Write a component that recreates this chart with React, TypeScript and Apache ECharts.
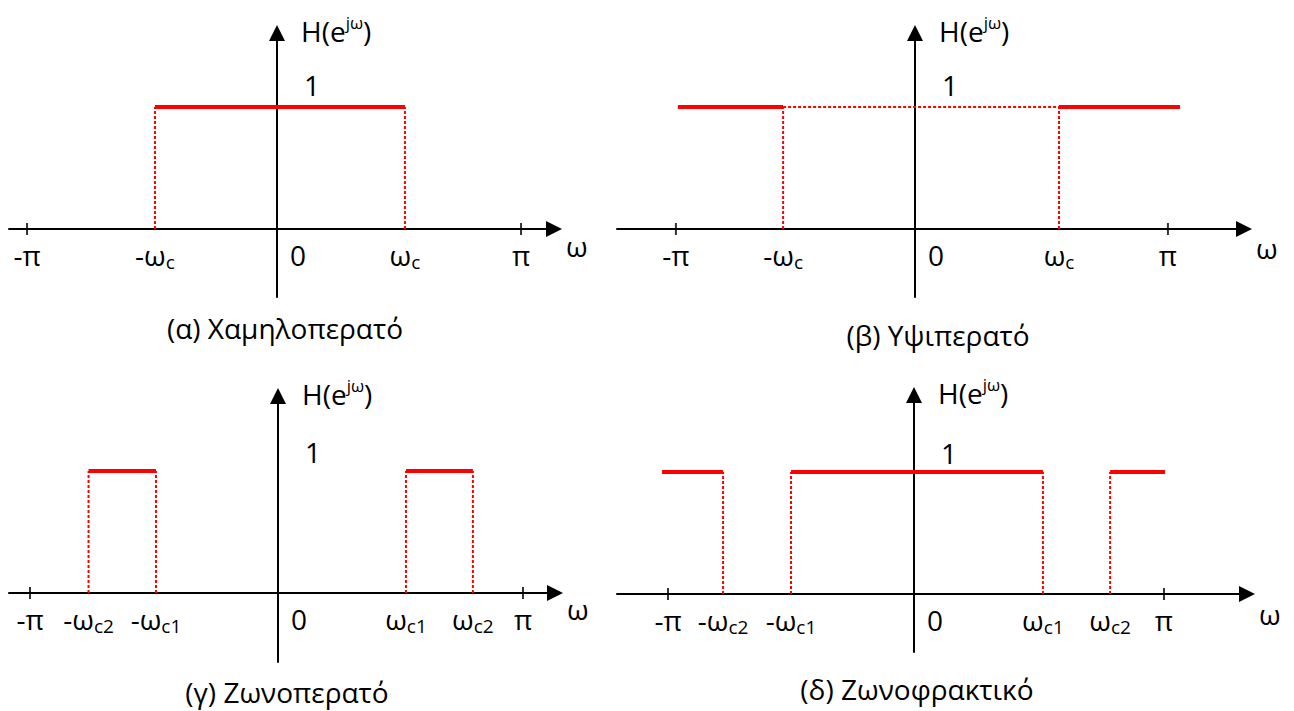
import { useEffect, useRef } from 'react';
import * as echarts from 'echarts';

const FONT = '"Open Sans", "Noto Sans", "DejaVu Sans", sans-serif';
const RED = '#ff0000';
const BLACK = '#000000';

// ---------- data: frequencies in units of π ----------
const GAIN = 1;

// (α) low-pass
const lowLabels = ['-π', '-ω_c', '0', 'ω_c', 'π'];
const lowFreqs = [-1.012, -0.494, 0, 0.518, 0.988];
const lowPass = [[-0.494, 0.518]];
const lowEdges = [-0.494, 0.518];
const lowGuides: number[][] = [];

// (β) high-pass
const highLabels = ['-π', '-ω_c', '0', 'ω_c', 'π'];
const highFreqs = [-0.968, -0.534, 0, 0.583, 1.024];
const highPass = [[-0.96, -0.534], [0.583, 1.073]];
const highEdges = [-0.534, 0.583];
const highGuides = [[-0.534, 0.583]];

// (γ) band-pass
const bandLabels = ['-π', '-ω_c2', '-ω_c1', '0', 'ω_c1', 'ω_c2', 'π'];
const bandFreqs = [-1.004, -0.767, -0.494, 0, 0.518, 0.789, 0.992];
const bandPass = [[-0.767, -0.494], [0.518, 0.789]];
const bandEdges = [-0.767, -0.494, 0.518, 0.789];
const bandGuides: number[][] = [];

// (δ) band-stop
const stopLabels = ['-π', '-ω_c2', '-ω_c1', '0', 'ω_c1', 'ω_c2', 'π'];
const stopFreqs = [-0.996, -0.773, -0.498, 0, 0.522, 0.794, 1.012];
const stopPass = [[-1.02, -0.773], [-0.498, 0.522], [0.794, 1.016]];
const stopEdges = [-0.773, -0.498, 0.522, 0.794];
const stopGuides: number[][] = [];

const titles = ['(α) Χαμηλοπερατό', '(β) Υψιπερατό', '(γ) Ζωνοπερατό', '(δ) Ζωνοφρακτικό'];
const yName = 'H(e{sup|jω})';
const xName = 'ω';
const gainLabel = '1';

// ---------- layout (pixels) ----------
const UX = 247; // px per π
const UY = 122; // px per unit gain
const layouts = [
  { ox: 277, oy: 229, left: 9, right: 554, top: 33, bottom: 297, tx: 285, ty: 328, oneUp: 22, nameLH: 34 },
  { ox: 915, oy: 229, left: 617, right: 1244, top: 33, bottom: 297, tx: 938, ty: 335, oneUp: 22, nameLH: 38 },
  { ox: 278, oy: 593, left: 9, right: 555, top: 396, bottom: 662, tx: 287, ty: 692, oneUp: 19, nameLH: 32 },
  { ox: 914, oy: 594, left: 617, right: 1247, top: 395, bottom: 652, tx: 917, ty: 689, oneUp: 19, nameLH: 40 },
];

const panels = [
  { labels: lowLabels, freqs: lowFreqs, pass: lowPass, edges: lowEdges, guides: lowGuides },
  { labels: highLabels, freqs: highFreqs, pass: highPass, edges: highEdges, guides: highGuides },
  { labels: bandLabels, freqs: bandFreqs, pass: bandPass, edges: bandEdges, guides: bandGuides },
  { labels: stopLabels, freqs: stopFreqs, pass: stopPass, edges: stopEdges, guides: stopGuides },
];

function richify(label: string): string {
  const k = label.indexOf('_');
  if (k < 0) return label;
  return label.slice(0, k) + '{s|' + label.slice(k + 1) + '}';
}

const textBase = { fontFamily: FONT, color: BLACK, fontSize: 28 };
const labelBase = { ...textBase, opacity: 1, textBorderWidth: 0, textShadowBlur: 0 };

function buildOption() {
  const grid: any[] = [];
  const xAxis: any[] = [];
  const yAxis: any[] = [];
  const series: any[] = [];
  const title: any[] = [];

  panels.forEach((p, i) => {
    const L = layouts[i];
    grid.push({
      left: L.left,
      top: L.top,
      width: L.right - L.left,
      height: L.bottom - L.top,
      containLabel: false,
      outerBoundsMode: 'none',
    });
    xAxis.push({
      gridIndex: i,
      type: 'value',
      min: (L.left - L.ox) / UX,
      max: (L.right - L.ox) / UX,
      axisLine: {
        onZero: true,
        symbol: ['none', 'triangle'],
        symbolSize: [16, 16],
        lineStyle: { color: BLACK, width: 2 },
      },
      axisTick: { show: false },
      axisLabel: { show: false },
      splitLine: { show: false },
      name: xName,
      nameLocation: 'end',
      nameGap: 12,
      nameMoveOverlap: false,
      nameTextStyle: {
        ...textBase,
        lineHeight: L.nameLH,
        align: 'left',
        verticalAlign: 'top',
      },
    });
    yAxis.push({
      gridIndex: i,
      type: 'value',
      min: -(L.bottom - L.oy) / UY,
      max: (L.oy - L.top) / UY,
      axisLine: {
        onZero: true,
        symbol: ['none', 'triangle'],
        symbolSize: [16, 16],
        lineStyle: { color: BLACK, width: 2 },
      },
      axisTick: { show: false },
      axisLabel: { show: false },
      splitLine: { show: false },
      name: yName,
      nameLocation: 'end',
      nameGap: 2,
      nameMoveOverlap: false,
      nameTextStyle: {
        ...textBase,
        lineHeight: 34,
        align: 'left',
        verticalAlign: 'middle',
        padding: [0, 0, 0, 24],
        rich: {
          sup: { fontSize: 17, lineHeight: 17, verticalAlign: 'top', fontFamily: FONT, color: BLACK },
        },
      },
    });

    // dotted guides (vertical edges and horizontal guides)
    p.edges.forEach((e) => {
      series.push({
        type: 'line', xAxisIndex: i, yAxisIndex: i, silent: true, showSymbol: false, symbol: 'none',
        data: [[e, 0], [e, GAIN]],
        lineStyle: { color: RED, width: 2, type: [3, 2] },
        z: 3,
      });
    });
    p.guides.forEach((g) => {
      series.push({
        type: 'line', xAxisIndex: i, yAxisIndex: i, silent: true, showSymbol: false, symbol: 'none',
        data: [[g[0], GAIN], [g[1], GAIN]],
        lineStyle: { color: RED, width: 2, type: [3, 2] },
        z: 3,
      });
    });
    // pass bands (solid)
    p.pass.forEach((seg) => {
      series.push({
        type: 'line', xAxisIndex: i, yAxisIndex: i, silent: true, showSymbol: false, symbol: 'none',
        data: [[seg[0], GAIN], [seg[1], GAIN]],
        lineStyle: { color: RED, width: 4 },
        z: 4,
      });
    });
    // ±π tick marks
    series.push({
      type: 'scatter', xAxisIndex: i, yAxisIndex: i, silent: true,
      symbol: 'rect', symbolSize: [2, 12],
      itemStyle: { color: BLACK },
      data: [[p.freqs[0], 0], [p.freqs[p.freqs.length - 1], 0]],
      z: 2,
    });
    // frequency labels under the ω axis
    series.push({
      type: 'scatter', xAxisIndex: i, yAxisIndex: i, silent: true,
      symbol: 'circle', symbolSize: 1,
      itemStyle: { color: 'rgba(255,255,255,0)' },
      data: p.freqs.map((f, j) => ({
        name: p.labels[j],
        value: [f, 0],
        label: { offset: p.labels[j] === '0' ? [21, 0] : [0, 0] },
      })),
      label: {
        show: true,
        position: 'bottom',
        distance: 8,
        ...labelBase,
        lineHeight: 34,
        formatter: (prm: any) => richify(prm.name),
        rich: {
          s: { fontSize: 19, lineHeight: 20, verticalAlign: 'bottom', fontFamily: FONT, color: BLACK },
        },
      },
      z: 5,
    });
    // gain label "1"
    series.push({
      type: 'scatter', xAxisIndex: i, yAxisIndex: i, silent: true,
      symbol: 'circle', symbolSize: 1,
      itemStyle: { color: 'rgba(255,255,255,0)' },
      data: [{ name: gainLabel, value: [0, GAIN] }],
      label: {
        show: true,
        position: 'inside',
        offset: [35, -L.oneUp],
        ...labelBase,
        formatter: (prm: any) => prm.name,
      },
      z: 5,
    });

    title.push({
      text: titles[i],
      left: L.tx,
      top: L.ty,
      padding: 0,
      textAlign: 'center',
      textVerticalAlign: 'middle',
      textStyle: { ...textBase, fontWeight: 'normal' },
    });
  });

  return {
    animation: false,
    backgroundColor: '#ffffff',
    title,
    grid,
    xAxis,
    yAxis,
    series,
  };
}

export default function App() {
  const ref = useRef<HTMLDivElement>(null);
  useEffect(() => {
    if (!ref.current) return;
    const chart = echarts.init(ref.current, null, { renderer: 'svg' });
    chart.setOption(buildOption() as any);
    return () => chart.dispose();
  }, []);
  return (
    <div
      ref={ref}
      style={{ position: 'absolute', left: 0, top: 0, width: 1294, height: 711, background: '#fff' }}
    />
  );
}
